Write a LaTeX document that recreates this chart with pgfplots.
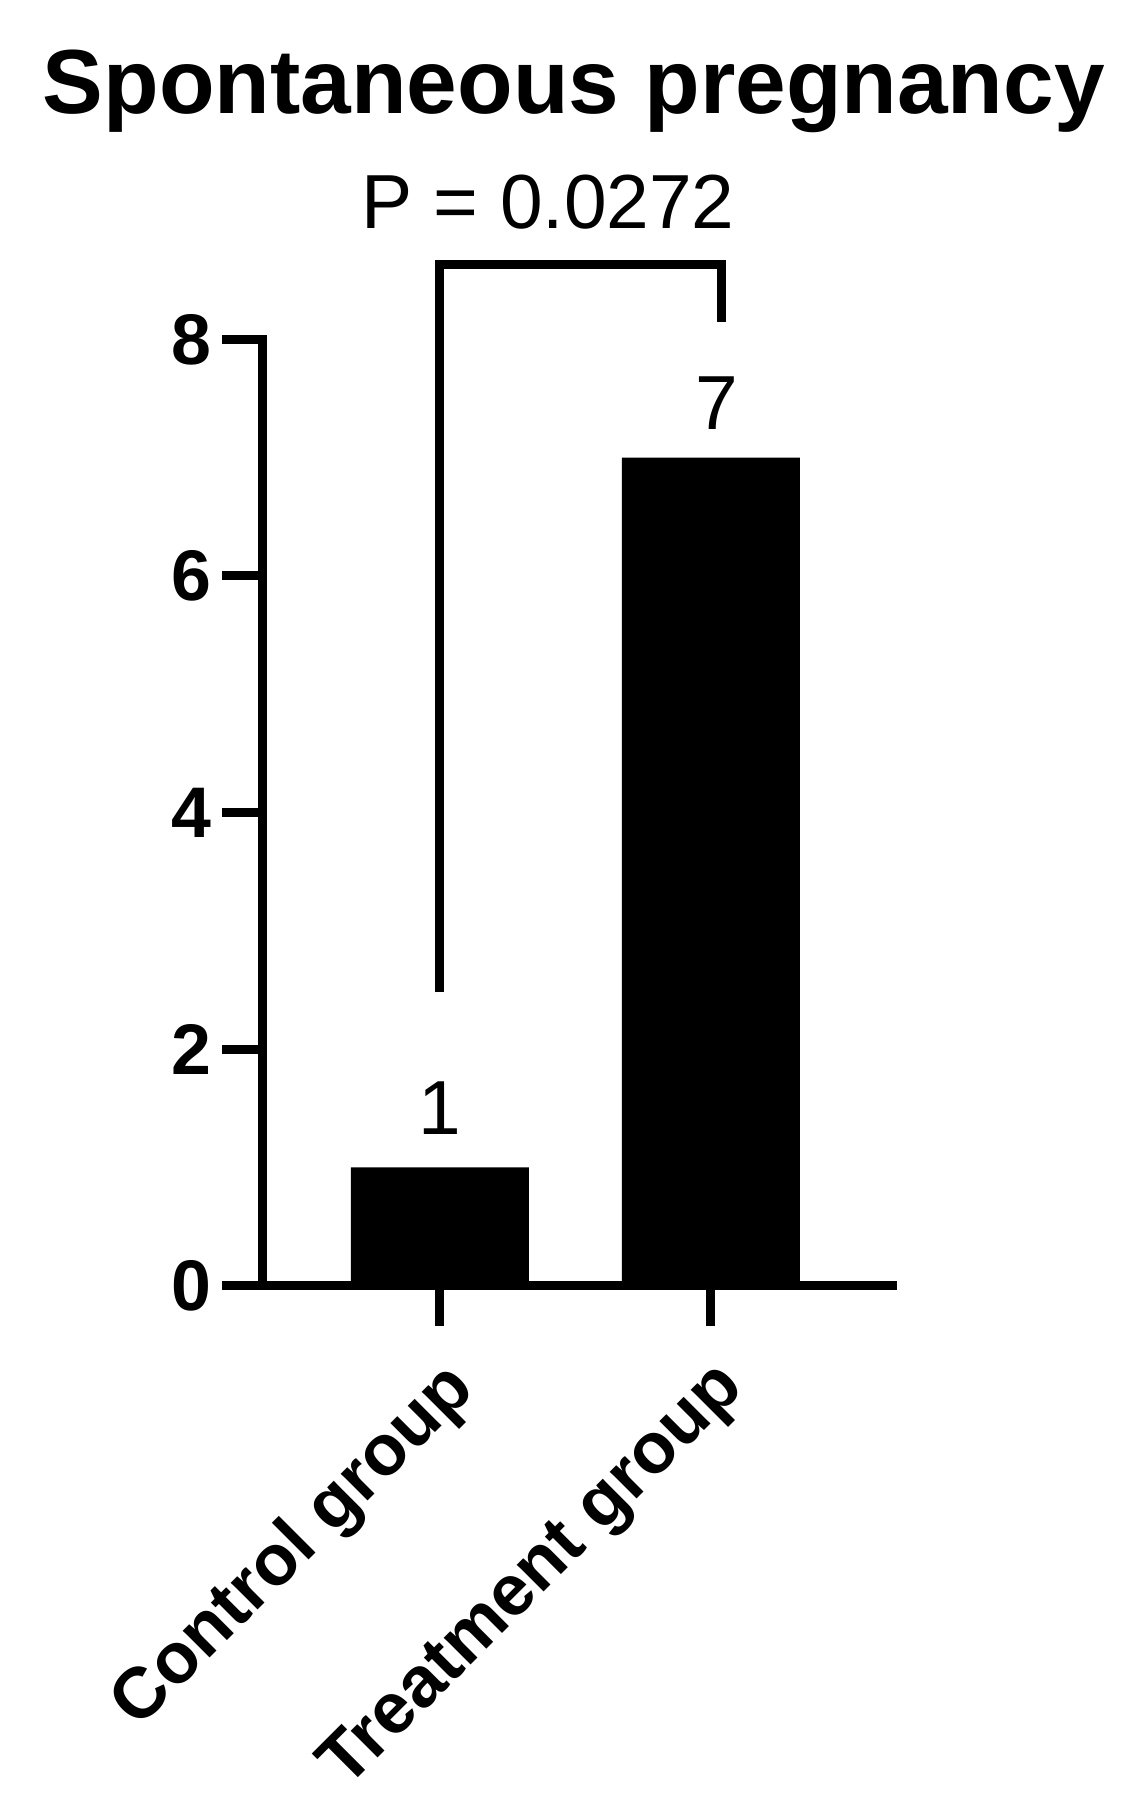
\documentclass[border=0pt]{standalone}
\usepackage{fontspec}
\setmainfont{Liberation Sans}
\usepackage{pgfplots}
\pgfplotsset{compat=1.18}

\begin{document}
\begin{tikzpicture}
\begin{axis}[
  scale only axis, width=188.85pt, height=283.9pt,
  xmin=-0.655, xmax=1.668, ymin=0, ymax=8,
  axis x line*=bottom, axis y line*=left,
  axis line style={line width=2.7pt, line cap=rect},
  every tick/.style={black, line width=2.7pt},
  tick align=outside, major tick length=12pt,
  xtick={0,1}, xticklabels={Control group, Treatment group},
  ytick={0,2,4,6,8},
  /pgf/number format/assume math mode=true,
  tick label style={font=\fontsize{21.5}{25}\selectfont\bfseries},
  xticklabel style={rotate=45, anchor=north east, inner sep=2pt, yshift=-4pt, xshift=-4pt},
  yticklabel style={inner sep=3pt},
  clip=false,
]
\addplot[ybar, bar width=53.4pt, fill=black, draw=none] coordinates {(0,1) (1,7)};

% significance bracket
\draw[line width=2.7pt, line join=miter] (axis cs:0,2.48) |- (axis cs:1.04,8.63) -- (axis cs:1.04,8.15);

\node[anchor=base, font=\fontsize{23}{27}\selectfont] at (axis cs:0,1.28) {1};
\node[anchor=base, font=\fontsize{23}{27}\selectfont] at (axis cs:1.02,7.24) {7};
\node[anchor=base, font=\fontsize{23}{27}\selectfont] at (axis cs:0.399,8.94) {P = 0.0272};
\node[anchor=base, font=\fontsize{27.3}{32}\selectfont\bfseries] at (axis cs:0.494,9.913) {Spontaneous pregnancy};

\coordinate (o) at (rel axis cs:0,0);
\end{axis}
\pgfresetboundingbox
\path ([shift={(-78.75pt,-155.5pt)}]o) rectangle ([shift={(259.65pt,385.7pt)}]o);
\end{tikzpicture}
\end{document}
